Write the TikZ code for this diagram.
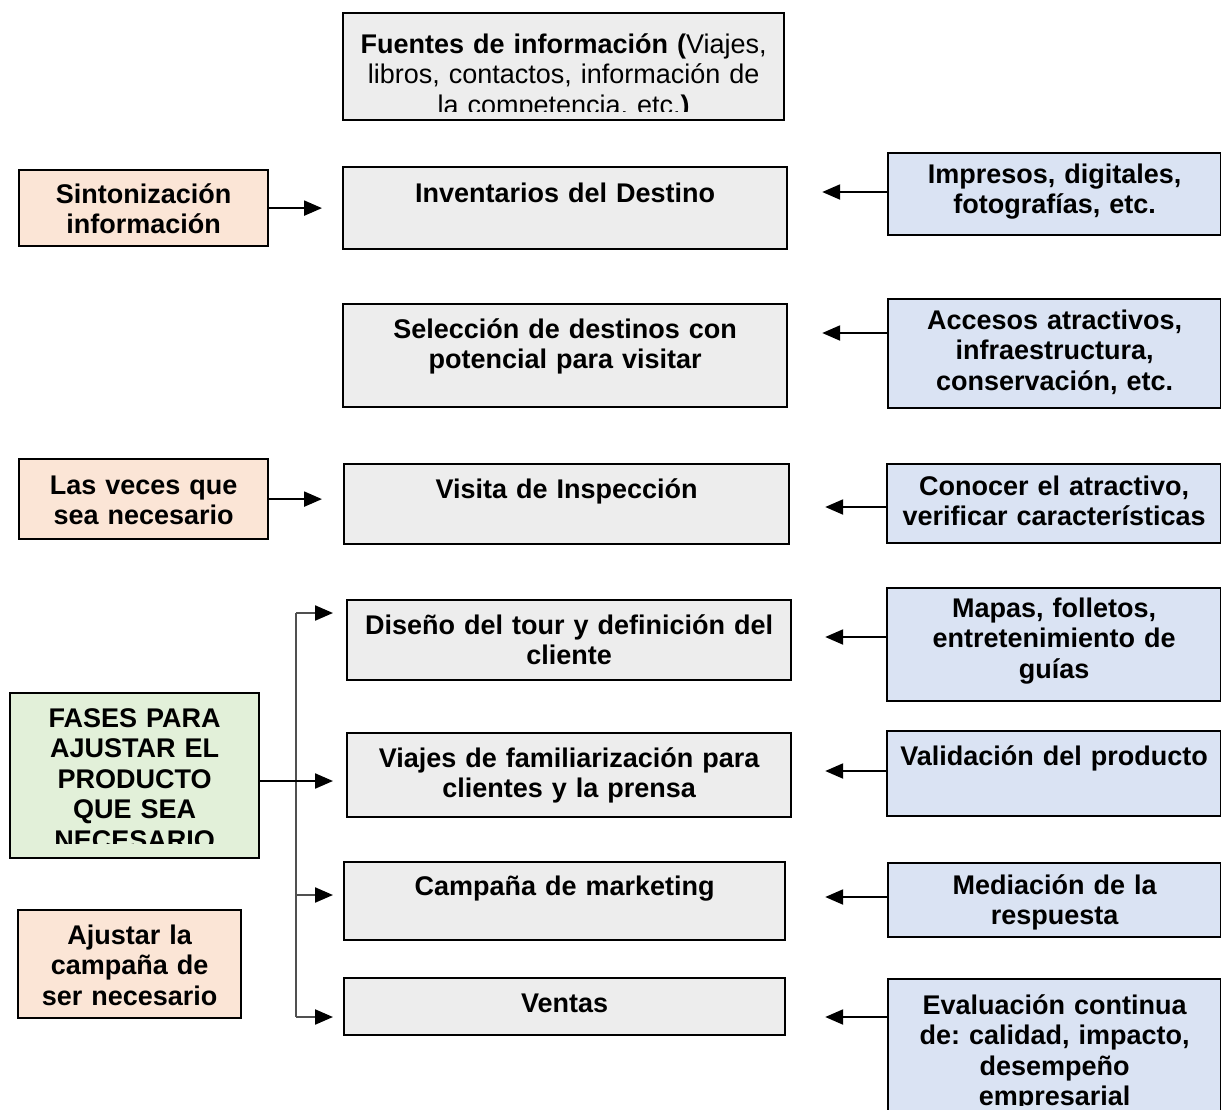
\documentclass[tikz,border=0pt]{standalone}
\usepackage{fontspec}
\setmainfont{Liberation Sans}
\usetikzlibrary{arrows.meta}
\definecolor{boxgray}{HTML}{EDEDED}
\definecolor{boxorange}{HTML}{FBE5D6}
\definecolor{boxblue}{HTML}{DAE3F3}
\definecolor{boxgreen}{HTML}{E2F0D9}
\definecolor{linegray}{HTML}{505050}
\tikzset{
  box/.style={draw=black, line width=2.2pt, inner sep=0pt, anchor=north west},
  txt/.style={anchor=north, inner sep=0pt, align=center,
    font=\fontsize{27}{30.5}\selectfont\bfseries\frenchspacing},
  arr/.style={line width=2.2pt, -{Triangle[length=18pt,width=15pt]}},
  barr/.style={line width=2.2pt, draw=linegray, -{Triangle[length=18pt,width=15pt,color=black]}},
  bline/.style={line width=2.2pt, draw=linegray},
}
% name, x1, y1, x2, y2, fill, first baseline offset, clip bottom, text
\newcommand\mkbox[9]{%
  \node[box, fill=#6, minimum width={(#4-#2)*1pt}, minimum height={(#5-#3)*1pt}] (#1) at (#2,#3) {};
  \begin{scope}
    \clip (#2+1.2,#3+1.2) rectangle (#4-1.2,#8);
    \node[txt, text width={(#4-#2-12)*1pt}] (#1t) at ([yshift={-(#7-21.35)*1pt}]#1.north) {\strut #9};
  \end{scope}
}
\begin{document}
\begin{tikzpicture}[x=1pt,y=-1pt]
\path[use as bounding box, clip] (0,0) rectangle (1221,1109);
% top
\mkbox{fue}{342}{12}{783}{119}{boxgray}{41}{111}{Fuentes de información (\mdseries Viajes,\\ libros, contactos, información de\\ la competencia, etc.\bfseries)}
% left column
\mkbox{sint}{18}{169}{267}{245}{boxorange}{34}{244}{Sintonización\\ información}
\mkbox{vec}{18}{458}{267}{538}{boxorange}{36}{537}{Las veces que\\ sea necesario}
\mkbox{fas}{9}{692}{258}{857}{boxgreen}{35}{843}{FASES PARA\\ AJUSTAR EL\\ PRODUCTO\\ QUE SEA\\ NECESARIO}
\mkbox{aju}{17}{909}{240}{1017}{boxorange}{35}{1016}{Ajustar la\\ campaña de\\ ser necesario}
% middle column
\mkbox{inv}{342}{166}{786}{248}{boxgray}{36}{247}{Inventarios del Destino}
\mkbox{sel}{342}{303}{786}{406}{boxgray}{35}{405}{Selección de destinos con\\ potencial para visitar}
\mkbox{vis}{343}{463}{788}{543}{boxgray}{35}{542}{Visita de Inspección}
\mkbox{dis}{346}{599}{790}{679}{boxgray}{35}{678}{Diseño del tour y definición del\\ cliente}
\mkbox{via}{346}{732}{790}{816}{boxgray}{35}{815}{Viajes de familiarización para\\ clientes y la prensa}
\mkbox{cam}{343}{861}{784}{939}{boxgray}{34}{938}{Campaña de marketing}
\mkbox{ven}{343}{977}{784}{1034}{boxgray}{35}{1033}{Ventas}
% right column
\mkbox{imp}{887}{152}{1220}{234}{boxblue}{31}{233}{Impresos, digitales,\\ fotografías, etc.}
\mkbox{acc}{887}{298}{1220}{407}{boxblue}{31}{406}{Accesos atractivos,\\ infraestructura,\\ conservación, etc.}
\mkbox{con}{886}{463}{1220}{542}{boxblue}{32}{541}{Conocer el atractivo,\\ verificar características}
\mkbox{map}{886}{587}{1220}{700}{boxblue}{30}{699}{Mapas, folletos,\\ entretenimiento de\\ guías}
\mkbox{val}{886}{730}{1220}{815}{boxblue}{35}{814}{Validación del producto}
\mkbox{med}{887}{862}{1220}{936}{boxblue}{32}{934}{Mediación de la\\ respuesta}
\mkbox{eva}{887}{978}{1220}{1130}{boxblue}{36}{1105}{Evaluación continua\\ de: calidad, impacto,\\ desempeño\\ empresarial}
% left arrows
\draw[arr, shorten >=20pt] (sint.east) -- (sint.east -| inv.west);
\draw[arr, shorten >=21pt] (vec.east) -- (vec.east -| vis.west);
% right arrows
\draw[arr, shorten >=34pt] (imp.west |- 0,192) -- (inv.east |- 0,192);
\draw[arr, shorten >=34pt] (acc.west |- 0,333) -- (sel.east |- 0,333);
\draw[arr, shorten >=35pt] (con.west |- 0,507) -- (vis.east |- 0,507);
\draw[arr, shorten >=33pt] (map.west |- 0,637) -- (dis.east |- 0,637);
\draw[arr, shorten >=33pt] (val.west |- 0,771) -- (via.east |- 0,771);
\draw[arr, shorten >=39pt] (med.west |- 0,897) -- (cam.east |- 0,897);
\draw[arr, shorten >=39pt] (eva.west |- 0,1017) -- (ven.east |- 0,1017);
% bracket
\coordinate (bt) at (296,613);
\coordinate (bm) at (296,895);
\coordinate (bb) at (296,1017);
\draw[bline] (bt) -- (bb);
\draw[barr, shorten >=13pt] (bt) -- (bt -| dis.west);
\draw[barr, shorten >=10pt] (bm) -- (bm -| cam.west);
\draw[barr, shorten >=10pt] (bb) -- (bb -| ven.west);
\draw[arr, shorten >=13pt] (fas.east |- 0,781) -- (via.west |- 0,781);
\end{tikzpicture}
\end{document}
